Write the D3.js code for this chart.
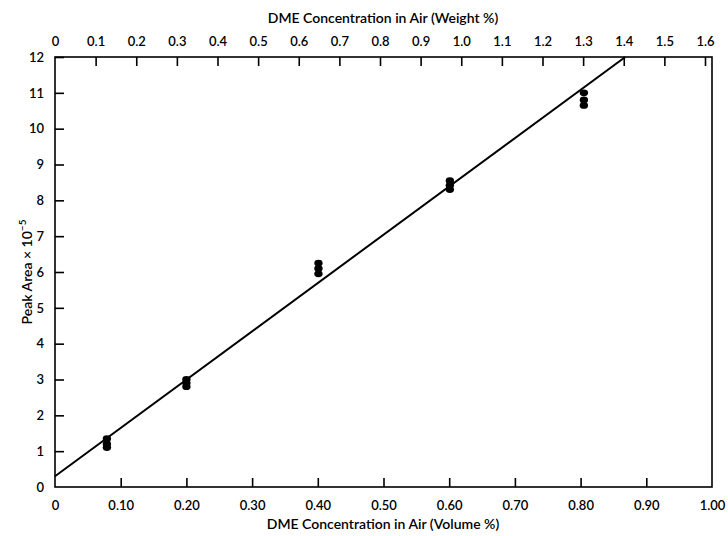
<!DOCTYPE html>
<html><head><meta charset="utf-8">
<script src="https://cdn.jsdelivr.net/npm/d3@7"></script>
<style>body{margin:0;background:#fff}svg{display:block}</style>
</head><body>
<script>
// Data
const volTicks = [0, 0.10, 0.20, 0.30, 0.40, 0.50, 0.60, 0.70, 0.80, 0.90, 1.00];
const volTickLabels = ["0","0.10","0.20","0.30","0.40","0.50","0.60","0.70","0.80","0.90","1.00"];
const wtTicks = [0,0.1,0.2,0.3,0.4,0.5,0.6,0.7,0.8,0.9,1.0,1.1,1.2,1.3,1.4,1.5,1.6];
const wtTickLabels = ["0","0.1","0.2","0.3","0.4","0.5","0.6","0.7","0.8","0.9","1.0","1.1","1.2","1.3","1.4","1.5","1.6"];
const yTicks = [0,1,2,3,4,5,6,7,8,9,10,11,12];
const pointX = [0.079,0.079,0.079, 0.20,0.20,0.20, 0.401,0.401,0.401, 0.601,0.601,0.601, 0.805,0.805,0.805];
const pointY = [1.1,1.2,1.35, 2.8,2.9,3.0, 5.95,6.1,6.25, 8.3,8.42,8.55, 10.65,10.8,11.0];
const fitX = [0, 0.868];
const fitY = [0.3, 12];

const W = 728, H = 536;
const m = {left:55, right:712, top:57, bottom:487};
const svg = d3.select("body").append("svg").attr("width",W).attr("height",H);
const font = "Lato, 'DejaVu Sans', sans-serif";

const x = d3.scaleLinear().domain([0,1]).range([m.left,m.right]);
const xTop = d3.scaleLinear().domain([0,1.6]).range([m.left,705]);
const y = d3.scaleLinear().domain([0,12]).range([m.bottom,m.top]);

// frame
svg.append("rect").attr("x",m.left).attr("y",m.top).attr("width",m.right-m.left).attr("height",m.bottom-m.top)
  .attr("fill","none").attr("stroke","#000").attr("stroke-width",1.6);

const fmt = (arr, ticks) => d => arr[ticks.indexOf(d)];

// bottom axis
const gB = svg.append("g").attr("transform",`translate(0,${m.bottom})`)
  .call(d3.axisBottom(x).tickValues(volTicks).tickFormat(fmt(volTickLabels, volTicks)).tickSizeInner(-9).tickSizeOuter(0).tickPadding(14));
// top axis
const gT = svg.append("g").attr("transform",`translate(0,${m.top})`)
  .call(d3.axisTop(xTop).tickValues(wtTicks).tickFormat(fmt(wtTickLabels, wtTicks)).tickSizeInner(-9).tickSizeOuter(0).tickPadding(11));
// left axis
const gL = svg.append("g").attr("transform",`translate(${m.left},0)`)
  .call(d3.axisLeft(y).tickValues(yTicks).tickSizeInner(-9).tickSizeOuter(0).tickPadding(11));

[gB,gT,gL].forEach(g=>{
  g.select(".domain").remove();
  g.selectAll(".tick line").attr("stroke","#000").attr("stroke-width",1.6);
  g.selectAll(".tick text").attr("font-family",font).attr("font-size",13).attr("font-weight",600).attr("fill","#000");
});
gL.selectAll(".tick").filter(d=>d===0).select("line").remove();
gB.selectAll(".tick").filter(d=>d===0 || d===1).select("line").remove();
gT.selectAll(".tick").filter(d=>d===0).select("line").remove();

// fit line
svg.append("line").attr("x1",x(fitX[0])).attr("y1",y(fitY[0])).attr("x2",x(fitX[1])).attr("y2",y(fitY[1]))
  .attr("stroke","#000").attr("stroke-width",2);

// points
svg.append("g").selectAll("ellipse").data(pointX.map((v,i)=>[v,pointY[i]])).join("ellipse")
  .attr("cx",d=>x(d[0])).attr("cy",d=>y(d[1])).attr("rx",4.2).attr("ry",3.4).attr("fill","#000");

// titles
svg.append("text").attr("x",383).attr("y",23).attr("text-anchor","middle").attr("font-family",font).attr("font-size",14).attr("font-weight",600)
  .text("DME Concentration in Air (Weight %)");
svg.append("text").attr("x",383).attr("y",529).attr("text-anchor","middle").attr("font-family",font).attr("font-size",14).attr("font-weight",600)
  .text("DME Concentration in Air (Volume %)");
const yl = svg.append("text").attr("transform","translate(32,272) rotate(-90)").attr("text-anchor","middle")
  .attr("font-family",font).attr("font-size",14).attr("font-weight",600);
yl.append("tspan").text("Peak Area × 10");
yl.append("tspan").attr("dy",-6).attr("font-size",10).text("−5");
</script>
</body></html>
